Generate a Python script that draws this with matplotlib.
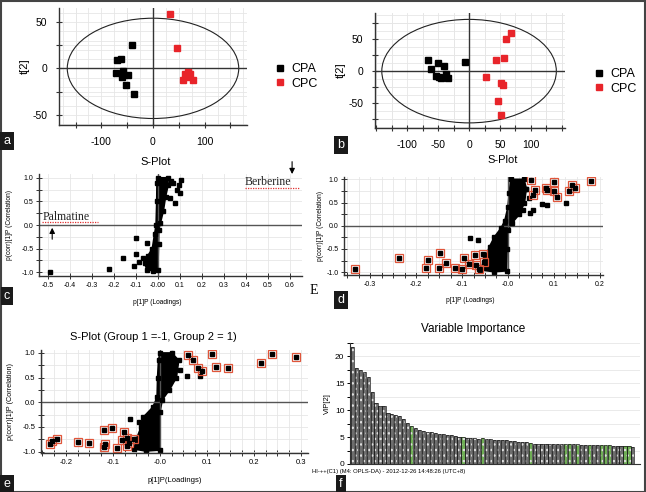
import matplotlib
matplotlib.use("Agg")
import matplotlib.pyplot as plt
from matplotlib.patches import Ellipse, Rectangle
from matplotlib.ticker import MultipleLocator, FixedLocator
import numpy as np

plt.rcParams['font.family'] = ['Liberation Sans', 'DejaVu Sans']
plt.rcParams['axes.unicode_minus'] = False

W, H = 646, 492

# ---- panel a : score plot ----
cpa_a_x = [-41, -70, -62, -58, -71, -60, -48, -52, -37]
cpa_a_y = [25, 9, 10, -3, -5, -9, -7, -18, -28]
cpc_a_x = [33, 46, 62, 72, 59, 67, 77, 68]
cpc_a_y = [59, 22, -6, -6, -12, -9, -13, -4]

# ---- panel b : score plot ----
cpa_b_x = [-66, -61, -50, -41, -53, -45, -38, -34, -48, -7]
cpa_b_y = [17, 4, 12, 8, -8, -11, -5, -10, -9, 14]
cpc_b_x = [67, 60, 43, 56, 28, 51, 55, 47, 51]
cpc_b_y = [60, 50, 17, 20, -9, -18, -22, -47, -69]

# ---- panel c : S-plot ----
c_x = [-0.49, -0.22, -0.16, -0.10, -0.11, -0.068, -0.097, -0.05, -0.085, -0.04,
       0.06, 0.107, 0.096, 0.085, 0.055, 0.08, 0.10, 0.07]
c_y = [-0.99, -0.94, -0.70, -0.61, -0.87, -0.70, -0.27, -0.38, -0.78, -0.85,
       0.93, 0.96, 0.85, 0.75, 0.58, 0.47, 0.68, 0.88]
c_cloud_x = [0.0, 0.045, 0.047, 0.035, 0.025, 0.012, 0.004, 0.003, 0.0, -0.02, -0.05,
             -0.06, -0.045, -0.025, -0.015, -0.008, -0.005, -0.004]
c_cloud_y = [1.0, 1.0, 0.85, 0.6, 0.3, 0.05, -0.1, -0.4, -0.95, -0.97, -0.95,
             -0.8, -0.65, -0.5, -0.2, 0.0, 0.5, 0.9]

# ---- panel d : S-plot with marked variables ----
d_box_x = [-0.333, -0.237, -0.174, -0.149, -0.178, -0.150, -0.134, -0.116, -0.099, -0.096,
           -0.085, -0.072, -0.069, -0.054, -0.062, -0.052, 0.051, 0.054, 0.059, 0.082,
           0.085, 0.100, 0.100, 0.107, 0.132, 0.140, 0.145, 0.181]
d_box_y = [-0.94, -0.70, -0.74, -0.58, -0.90, -0.92, -0.81, -0.90, -0.94, -0.69,
           -0.83, -0.62, -0.84, -0.61, -0.94, -0.77, 0.98, 0.66, 0.77, 0.82,
           0.78, 0.94, 0.75, 0.61, 0.74, 0.87, 0.81, 0.96]
d_dot_x = [0.075, 0.084, 0.127, 0.033, 0.054, 0.047, -0.083, -0.065, 0.04, 0.045]
d_dot_y = [0.47, 0.45, 0.48, 0.34, 0.34, 0.28, -0.26, -0.30, 0.8, 0.6]
d_cloud_x = [0.006, 0.035, 0.04, 0.036, 0.025, 0.008, 0.0, -0.002, -0.003, -0.03, -0.06,
             -0.05, -0.04, -0.03, -0.015, -0.007, 0.0, 0.003]
d_cloud_y = [1.0, 1.0, 0.8, 0.5, 0.25, 0.05, -0.1, -0.5, -0.97, -0.99, -0.95,
             -0.7, -0.45, -0.25, -0.05, 0.1, 0.4, 0.7]

# ---- panel e : S-plot (Group 1 = -1, Group 2 = 1) ----
e_box_x = [0.060, 0.070, 0.110, 0.238, 0.290, 0.216, 0.120, 0.145, 0.080, 0.090,
           -0.230, -0.220, -0.233, -0.174, -0.150, -0.117, -0.120, -0.119, -0.103, -0.092,
           -0.076, -0.080, -0.070, -0.065, -0.055, -0.070]
e_box_y = [0.96, 0.85, 0.98, 0.97, 0.92, 0.80, 0.72, 0.70, 0.69, 0.63,
           -0.78, -0.75, -0.85, -0.80, -0.82, -0.85, -0.91, -0.57, -0.52, -0.93,
           -0.61, -0.76, -0.72, -0.83, -0.75, -0.88]
e_dot_x = [0.042, 0.057, 0.085, -0.063, -0.045]
e_dot_y = [0.66, 0.54, 0.54, -0.35, -0.40]
e_cloud_x = [0.0, 0.025, 0.04, 0.035, 0.02, 0.005, 0.0, 0.0, -0.03, -0.055, -0.05,
             -0.04, -0.035, -0.015, -0.006, -0.005, -0.003]
e_cloud_y = [1.0, 1.0, 0.85, 0.5, 0.25, 0.05, -0.2, -0.97, -0.99, -0.95, -0.75,
             -0.5, -0.3, -0.1, 0.1, 0.5, 0.85]

# ---- panel f : VIP ----
vip = [21.7, 17.8, 17.4, 17.1, 16.2, 13.3, 11.3, 10.8, 10.8, 9.4, 9.3, 9.1, 8.9, 8.3,
       7.7, 7.1, 6.7, 6.3, 6.2, 6.0, 5.9, 5.8, 5.6, 5.5, 5.3, 5.3, 5.2, 5.1, 5.1, 4.9,
       4.8, 4.8, 4.7, 4.8, 4.6, 4.6, 4.5, 4.5, 4.4, 4.4, 4.3, 4.2, 4.1, 4.0, 4.0, 3.9,
       3.8, 3.8, 3.8, 3.8, 3.8, 3.7, 3.7, 3.7, 3.7, 3.7, 3.7, 3.7, 3.6, 3.6, 3.6, 3.6,
       3.6, 3.5, 3.5, 3.5, 3.4, 3.4, 3.4, 3.3, 3.3, 3.1]
vip_green = [15, 28, 33, 45, 54, 55, 57, 60, 63, 64, 65, 69, 70]


def box(l, t, r, b):
    return [l / W, 1 - b / H, (r - l) / W, (b - t) / H]


def ptext(x, y, s, **kw):
    fig.text(x / W, 1 - y / H, s, **kw)


def tag(x, y, s):
    ptext(x, y, s, color='white', fontsize=9, ha='center', va='center',
          bbox=dict(boxstyle='square,pad=0.25', fc='#1a1a1a', ec='none'))


def base_axes(ax):
    for s in ['top', 'right']:
        ax.spines[s].set_visible(False)
    for s in ['left', 'bottom']:
        ax.spines[s].set_color('#333333')
        ax.spines[s].set_linewidth(1.0)
    ax.set_axisbelow(True)
    ax.tick_params(which='both', direction='inout', color='#333333', length=5, width=0.8)
    ax.grid(which='both', color='#e6e6e6', lw=0.6)


fig = plt.figure(figsize=(W / 100, H / 100), dpi=100)

# ---------- a ----------
ax = fig.add_axes(box(59, 8, 247, 125))
base_axes(ax)
ax.set_xlim(-182, 182)
ax.set_ylim(-61, 65)
ax.xaxis.set_major_locator(FixedLocator([-100, 0, 100]))
ax.xaxis.set_minor_locator(FixedLocator([-150, -50, 50, 150]))
ax.yaxis.set_major_locator(MultipleLocator(50))
ax.yaxis.set_minor_locator(MultipleLocator(25))
ax.grid(False)
for gx in np.arange(-175, 176, 25):
    ax.axvline(gx, color='#e6e6e6', lw=0.6, zorder=0)
for gy in np.arange(-60, 61, 10):
    ax.axhline(gy, color='#e6e6e6', lw=0.6, zorder=0)
ax.tick_params(labelsize=7.5, pad=6)
ax.axhline(0, color='#333333', lw=1.0)
ax.axvline(0, color='#333333', lw=1.0)
ax.add_patch(Ellipse((0, 0), 332, 108, fill=False, ec='#222222', lw=0.8))
ax.plot(cpa_a_x, cpa_a_y, 's', color='black', ms=4.5, label='CPA', clip_on=False)
ax.plot(cpc_a_x, cpc_a_y, 's', color='#e8242a', ms=4.5, label='CPC', clip_on=False)
ax.set_ylabel('t[2]', fontsize=8, labelpad=2)
ax.legend(loc='upper left', bbox_to_anchor=(270 / W, 1 - 57 / H), bbox_transform=fig.transFigure,
          frameon=False, fontsize=9, handlelength=0.6, handletextpad=0.6, borderpad=0,
          labelspacing=0.2, markerscale=0.9)

# ---------- b ----------
ax = fig.add_axes(box(375, 13, 565, 128))
base_axes(ax)
ax.set_xlim(-152, 155)
ax.set_ylim(-89, 91)
ax.xaxis.set_major_locator(FixedLocator([-100, -50, 0, 50, 100]))
ax.xaxis.set_minor_locator(FixedLocator([-150, -125, -75, -25, 25, 75, 125, 150]))
ax.yaxis.set_major_locator(MultipleLocator(50))
ax.yaxis.set_minor_locator(MultipleLocator(25))
ax.grid(False)
for gx in np.arange(-150, 151, 25):
    ax.axvline(gx, color='#e6e6e6', lw=0.6, zorder=0)
for gy in np.arange(-87.5, 90, 12.5):
    ax.axhline(gy, color='#e6e6e6', lw=0.6, zorder=0)
ax.tick_params(labelsize=7.5, pad=6)
ax.axhline(0, color='#333333', lw=1.0)
ax.axvline(0, color='#333333', lw=1.0)
ax.add_patch(Ellipse((0, 0), 282, 162, fill=False, ec='#222222', lw=0.8))
ax.plot(cpa_b_x, cpa_b_y, 's', color='black', ms=4.5, label='CPA')
ax.plot(cpc_b_x, cpc_b_y, 's', color='#e8242a', ms=4.5, label='CPC')
ax.set_ylabel('t[2]', fontsize=8, labelpad=2)
ax.legend(loc='upper left', bbox_to_anchor=(589 / W, 1 - 62 / H), bbox_transform=fig.transFigure,
          frameon=False, fontsize=9, handlelength=0.6, handletextpad=0.6, borderpad=0,
          labelspacing=0.2, markerscale=0.9)


def splot(rect, xlim, ylim, xticks, xlabels):
    ax = fig.add_axes(rect)
    base_axes(ax)
    ax.set_xlim(*xlim)
    ax.set_ylim(*ylim)
    ax.set_xticks(xticks)
    ax.set_xticklabels(xlabels)
    ax.xaxis.set_minor_locator(MultipleLocator(0.05))
    ax.set_yticks([-1.0, -0.5, 0.0, 0.5, 1.0])
    ax.yaxis.set_minor_locator(MultipleLocator(0.25))
    ax.tick_params(which='both', length=4, width=0.7)
    ax.tick_params(labelsize=5, pad=2)
    ax.axhline(0, color='#555555', lw=1.0)
    ax.axvline(0, color='#555555', lw=1.0)
    return ax


def cloud(ax, cx, cy):
    # dense block of variables around the origin
    ax.fill(cx, cy, color='black', lw=1.2)
    ax.plot(cx, cy, 's', color='black', ms=2.3)


ylab = 'p(corr)[1]P (Correlation)'

# ---------- c ----------
ax = splot(box(39, 174, 302, 276), (-0.54, 0.655), (-1.08, 1.08),
           [-0.5, -0.4, -0.3, -0.2, -0.1, 0.0, 0.1, 0.2, 0.3, 0.4, 0.5, 0.6],
           ['-0.5', '-0.4', '-0.3', '-0.2', '-0.1', '-0.00', '0.1', '0.2', '0.3', '0.4', '0.5', '0.6'])
ax.xaxis.set_minor_locator(MultipleLocator(0.1))
cloud(ax, c_cloud_x, c_cloud_y)
ax.plot(c_x, c_y, 's', color='black', ms=2.3)
ax.text(-0.525, 0.11, 'Palmatine', family='Liberation Serif', fontsize=8.5, color='#222222')
ax.plot([-0.525, -0.27], [0.055, 0.055], color='#e03030', lw=0.9, ls=(0, (1, 1)))
ax.annotate('', xy=(-0.48, 0.0), xytext=(-0.48, -0.36),
            arrowprops=dict(arrowstyle='-|>', color='black', lw=0.8, mutation_scale=8))
ax.text(0.395, 0.84, 'Berberine', family='Liberation Serif', fontsize=8.5, color='#222222')
ax.plot([0.395, 0.645], [0.78, 0.78], color='#e03030', lw=0.9, ls=(0, (1, 1)))
ax.annotate('', xy=(0.61, 1.02), xytext=(0.61, 1.4), annotation_clip=False,
            arrowprops=dict(arrowstyle='-|>', color='black', lw=0.8, mutation_scale=8))
ptext(157, 302, 'p[1]P (Loadings)', fontsize=4.8, ha='center', va='center')
ptext(10, 225, ylab, fontsize=4.8, rotation=90, ha='center', va='center')
ptext(314, 291, 'E', family='Liberation Serif', fontsize=10, ha='center', va='center')

# ---------- d ----------
ax = splot(box(344, 177, 603, 275), (-0.357, 0.207), (-1.06, 1.05),
           [-0.3, -0.2, -0.1, 0.0, 0.1, 0.2],
           ['-0.3', '-0.2', '-0.1', '-0.0', '0.1', '0.2'])
ax.xaxis.set_minor_locator(MultipleLocator(0.025))
cloud(ax, d_cloud_x, d_cloud_y)
ax.plot(d_dot_x, d_dot_y, 's', color='black', ms=2.3)
ax.plot(d_box_x, d_box_y, 's', mfc='none', mec='#e0553a', mew=0.9, ms=6)
ax.plot(d_box_x, d_box_y, 's', color='black', ms=2.3)
ptext(470, 300, 'p[1]P (Loadings)', fontsize=4.8, ha='center', va='center')
ptext(320, 226, ylab, fontsize=4.8, rotation=90, ha='center', va='center')

# ---------- e ----------
ax = splot(box(41, 350, 308, 453), (-0.253, 0.315), (-1.03, 1.06),
           [-0.2, -0.1, 0.0, 0.1, 0.2, 0.3],
           ['-0.2', '-0.1', '-0.0', '0.1', '0.2', '0.3'])
ax.xaxis.set_minor_locator(MultipleLocator(0.025))
ax.tick_params(labelsize=5.5)
cloud(ax, e_cloud_x, e_cloud_y)
ax.plot(e_dot_x, e_dot_y, 's', color='black', ms=2.3)
ax.plot(e_box_x, e_box_y, 's', mfc='none', mec='#e0553a', mew=0.9, ms=6)
ax.plot(e_box_x, e_box_y, 's', color='black', ms=2.3)
ptext(153, 337, 'S-Plot (Group 1 =-1, Group 2 = 1)', fontsize=8, ha='center', va='center')
ptext(175, 480, 'p[1]P(Loadings)', fontsize=5.5, ha='center', va='center')
ptext(11, 402, ylab, fontsize=5.2, rotation=90, ha='center', va='center')

# ---------- f ----------
ax = fig.add_axes(box(350, 343, 640, 464))
for s in ['top', 'right']:
    ax.spines[s].set_visible(False)
ax.spines['left'].set_color('#333333')
ax.spines['bottom'].set_color('#333333')
ax.set_axisbelow(True)
idx = np.arange(len(vip))
colors = ['#6fae55' if i in vip_green else '#6e6e6e' for i in idx]
ax.bar(idx, vip, width=0.8, color=colors, edgecolor='#dddddd', hatch='...', lw=0)
ax.bar(idx, vip, width=0.8, fill=False, edgecolor='#1a1a1a', lw=0.5)
ax.set_xlim(-0.6, len(vip) + 0.8)
ax.set_ylim(0, 22.5)
ax.yaxis.set_major_locator(MultipleLocator(5))
ax.yaxis.set_minor_locator(MultipleLocator(2.5))
ax.grid(axis='y', which='both', color='#e6e6e6', lw=0.6)
ax.set_xticks([])
ax.tick_params(axis='y', which='both', direction='inout', length=4, width=0.7, labelsize=6, pad=2)
ax.set_ylabel('VIP[2]', fontsize=5.5, labelpad=3)
ptext(473, 329, 'Variable Importance', fontsize=8.5, ha='center', va='center')
ptext(312, 472, 'HI-++(C1) (M4: OPLS-DA) - 2012-12-26 14:48:26 (UTC+8)', fontsize=4.2,
      ha='left', va='center')

# titles between rows
ptext(156, 162, 'S-Plot', fontsize=8, ha='center', va='center')
ptext(503, 160, 'S-Plot', fontsize=8, ha='center', va='center')

# panel tags
tag(7, 141, 'a')
tag(341, 145, 'b')
tag(7, 296, 'c')
tag(341, 300, 'd')
tag(7, 484, 'e')
tag(341, 484, 'f')

fig.patches.append(Rectangle((0.001, 0.001), 0.997, 0.997, transform=fig.transFigure,
                             fill=False, ec='#444444', lw=1.5))

fig.savefig('out.png', dpi=100)
